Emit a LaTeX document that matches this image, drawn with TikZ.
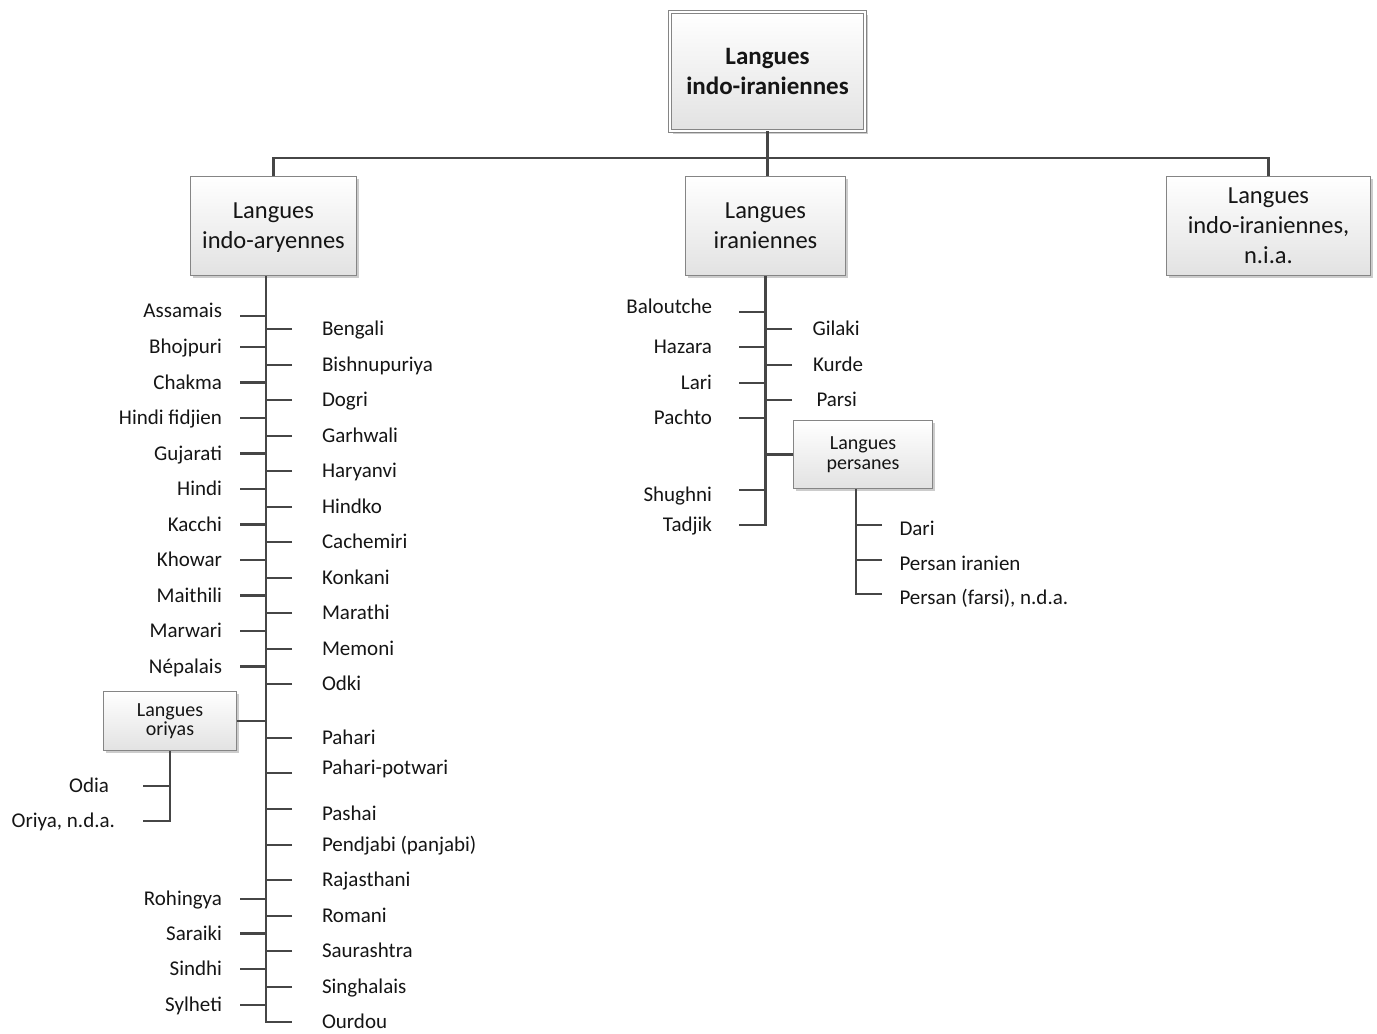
\documentclass[tikz,border=0pt]{standalone}
\usepackage{fontspec}
\setmainfont{Carlito}
\usetikzlibrary{shadows}
\definecolor{ink}{HTML}{151515}
\definecolor{wire}{HTML}{464646}
\definecolor{edge}{HTML}{858585}
\definecolor{fade}{HTML}{E2E2E2}
\tikzset{
  box/.style={rectangle,draw=edge,line width=0.9pt,top color=white,bottom color=fade,align=center,inner sep=2pt,text=ink,
    font=\fontsize{24.5}{30}\selectfont,drop shadow={shadow xshift=2.5pt,shadow yshift=-2.5pt,fill=black,opacity=0.2}},
  rootbox/.style={box,double=white,double distance=2.2pt,font=\bfseries\fontsize{25}{30}\selectfont},
  subbox/.style={box,font=\fontsize{20}{19.5}\selectfont},
  lbl/.style={inner sep=0pt,outer ysep=0pt,text=ink,font=\fontsize{21}{25}\selectfont,text height=15pt,text depth=1.6pt},
  llbl/.style={lbl,anchor=east,outer xsep=18pt},
  rlbl/.style={lbl,anchor=west,outer xsep=30pt},
  lift/.style={text height=5pt},
  sink/.style={text height=25pt},
  link/.style={draw=wire,line width=2.3pt}
}

\begin{document}
\begin{tikzpicture}[x=1pt,y=-1pt]
\useasboundingbox (0,0) rectangle (1377,1034);

% boxes
\node[rootbox, minimum width=195pt, minimum height=119pt] (root) at (767.5,71.5) {Langues\\indo-iraniennes};
\node[box, minimum width=166pt, minimum height=99pt] (aryen) at (273.5,226) {Langues\\\smash{indo-aryennes}};
\node[box, minimum width=160pt, minimum height=99pt] (iran) at (765.5,226) {Langues\\iraniennes};
\node[box, minimum width=204pt, minimum height=99pt] (nia) at (1268.5,226) {Langues\\indo-iraniennes,\\n.i.a.};
\node[subbox, minimum width=133pt, minimum height=59pt] (oriyas) at (170,721) {Langues\\oriyas};
\node[subbox, minimum width=139pt, minimum height=68pt] (pers) at (863,454.5) {Langues\\persanes};

\coordinate (bar) at (767,158);
\coordinate (tArya) at (266,276);
\coordinate (tPers) at (856,489);

\draw[link] (root.south) -- (root.south |- iran.north);
\draw[link] (aryen.north) |- (bar) -| (nia.north);

% indo-aryennes, left
\node[llbl, lift] (assamais) at (240,316) {Assamais};
\node[llbl] (bhojpuri) at (240,347) {Bhojpuri};
\node[llbl] (chakma) at (240,382.5) {Chakma};
\node[llbl] (fidjien) at (240,418) {Hindi fidjien};
\node[llbl] (gujarati) at (240,453.5) {Gujarati};
\node[llbl] (hindi) at (240,489) {Hindi};
\node[llbl] (kacchi) at (240,524.5) {Kacchi};
\node[llbl] (khowar) at (240,560) {Khowar};
\node[llbl] (maithili) at (240,595.5) {Maithili};
\node[llbl] (marwari) at (240,631) {Marwari};
\node[llbl] (nepalais) at (240,666.5) {Népalais};
\node[llbl] (rohingya) at (240,899) {Rohingya};
\node[llbl] (saraiki) at (240,933.5) {Saraiki};
\node[llbl] (sindhi) at (240,969) {Sindhi};
\node[llbl] (sylheti) at (240,1005) {Sylheti};

% indo-aryennes, right
\node[rlbl] (bengali) at (292,329) {Bengali};
\node[rlbl] (bishnu) at (292,365) {Bishnupuriya};
\node[rlbl] (dogri) at (292,400) {Dogri};
\node[rlbl] (garhwali) at (292,436) {Garhwali};
\node[rlbl] (haryanvi) at (292,471) {Haryanvi};
\node[rlbl] (hindko) at (292,507) {Hindko};
\node[rlbl] (cachemiri) at (292,542) {Cachemiri};
\node[rlbl] (konkani) at (292,578) {Konkani};
\node[rlbl] (marathi) at (292,613) {Marathi};
\node[rlbl] (memoni) at (292,649) {Memoni};
\node[rlbl] (odki) at (292,684) {Odki};
\node[rlbl] (pahari) at (292,738) {Pahari};
\node[rlbl, lift] (potwari) at (292,773) {Pahari-potwari};
\node[rlbl, sink] (pashai) at (292,809) {Pashai};
\node[rlbl] (pendjabi) at (292,845) {Pendjabi (panjabi)};
\node[rlbl] (rajasthani) at (292,880) {Rajasthani};
\node[rlbl] (romani) at (292,916) {Romani};
\node[rlbl] (saurashtra) at (292,951) {Saurashtra};
\node[rlbl] (singhalais) at (292,987) {Singhalais};
\node[rlbl] (ourdou) at (292,1022) {Ourdou};

% langues oriyas
\node[llbl, outer xsep=34pt] (odia) at (143,786) {Odia};
\node[llbl, outer xsep=28pt] (oriyand) at (143,821) {Oriya, n.d.a.};

% iraniennes
\node[llbl, lift, outer xsep=27pt] (baloutche) at (739,312) {Baloutche};
\node[llbl, outer xsep=27pt] (hazara) at (739,347) {Hazara};
\node[llbl, outer xsep=27pt] (lari) at (739,383) {Lari};
\node[llbl, outer xsep=27pt] (pachto) at (739,418) {Pachto};
\node[llbl, sink, outer xsep=27pt] (shughni) at (739,490) {Shughni};
\node[llbl, outer xsep=27pt] (tadjik) at (739,525) {Tadjik};
\node[rlbl, outer xsep=20.5pt] (gilaki) at (792,329) {Gilaki};
\node[rlbl, outer xsep=21pt] (kurde) at (792,365) {Kurde};
\node[rlbl, outer xsep=24.5pt] (parsi) at (792,400) {Parsi};

% langues persanes
\node[rlbl, text height=23pt, outer xsep=17.5pt] (dari) at (882,525) {Dari};
\node[rlbl, text height=23pt, outer xsep=17.5pt] (iranien) at (882,560) {Persan iranien};
\node[rlbl, text height=23pt, outer xsep=17.5pt] (farsi) at (882,594) {Persan (farsi), n.d.a.};

% trunks
\draw[link] (tArya) |- (ourdou.west);
\draw[link] (iran.south) |- (tadjik.east);
\draw[link] (oriyas.south) |- (oriyand.east);
\draw[link] (tPers) |- (farsi.west);

\draw[link] (assamais.east) -- (assamais.east -| tArya);
\draw[link] (bhojpuri.east) -- (bhojpuri.east -| tArya);
\draw[link] (chakma.east) -- (chakma.east -| tArya);
\draw[link] (fidjien.east) -- (fidjien.east -| tArya);
\draw[link] (gujarati.east) -- (gujarati.east -| tArya);
\draw[link] (hindi.east) -- (hindi.east -| tArya);
\draw[link] (kacchi.east) -- (kacchi.east -| tArya);
\draw[link] (khowar.east) -- (khowar.east -| tArya);
\draw[link] (maithili.east) -- (maithili.east -| tArya);
\draw[link] (marwari.east) -- (marwari.east -| tArya);
\draw[link] (nepalais.east) -- (nepalais.east -| tArya);
\draw[link] (oriyas.east) -- (oriyas.east -| tArya);
\draw[link] (rohingya.east) -- (rohingya.east -| tArya);
\draw[link] (saraiki.east) -- (saraiki.east -| tArya);
\draw[link] (sindhi.east) -- (sindhi.east -| tArya);
\draw[link] (sylheti.east) -- (sylheti.east -| tArya);

\draw[link] (bengali.west) -- (bengali.west -| tArya);
\draw[link] (bishnu.west) -- (bishnu.west -| tArya);
\draw[link] (dogri.west) -- (dogri.west -| tArya);
\draw[link] (garhwali.west) -- (garhwali.west -| tArya);
\draw[link] (haryanvi.west) -- (haryanvi.west -| tArya);
\draw[link] (hindko.west) -- (hindko.west -| tArya);
\draw[link] (cachemiri.west) -- (cachemiri.west -| tArya);
\draw[link] (konkani.west) -- (konkani.west -| tArya);
\draw[link] (marathi.west) -- (marathi.west -| tArya);
\draw[link] (memoni.west) -- (memoni.west -| tArya);
\draw[link] (odki.west) -- (odki.west -| tArya);
\draw[link] (pahari.west) -- (pahari.west -| tArya);
\draw[link] (potwari.west) -- (potwari.west -| tArya);
\draw[link] (pashai.west) -- (pashai.west -| tArya);
\draw[link] (pendjabi.west) -- (pendjabi.west -| tArya);
\draw[link] (rajasthani.west) -- (rajasthani.west -| tArya);
\draw[link] (romani.west) -- (romani.west -| tArya);
\draw[link] (saurashtra.west) -- (saurashtra.west -| tArya);
\draw[link] (singhalais.west) -- (singhalais.west -| tArya);

\draw[link] (odia.east) -- (odia.east -| oriyas.south);

\draw[link] (baloutche.east) -- (baloutche.east -| iran.south);
\draw[link] (hazara.east) -- (hazara.east -| iran.south);
\draw[link] (lari.east) -- (lari.east -| iran.south);
\draw[link] (pachto.east) -- (pachto.east -| iran.south);
\draw[link] (shughni.east) -- (shughni.east -| iran.south);
\draw[link] (gilaki.west) -- (gilaki.west -| iran.south);
\draw[link] (kurde.west) -- (kurde.west -| iran.south);
\draw[link] (parsi.west) -- (parsi.west -| iran.south);
\draw[link] (pers.west) -- (pers.west -| iran.south);

\draw[link] (dari.west) -- (dari.west -| tPers);
\draw[link] (iranien.west) -- (iranien.west -| tPers);
\end{tikzpicture}
\end{document}
